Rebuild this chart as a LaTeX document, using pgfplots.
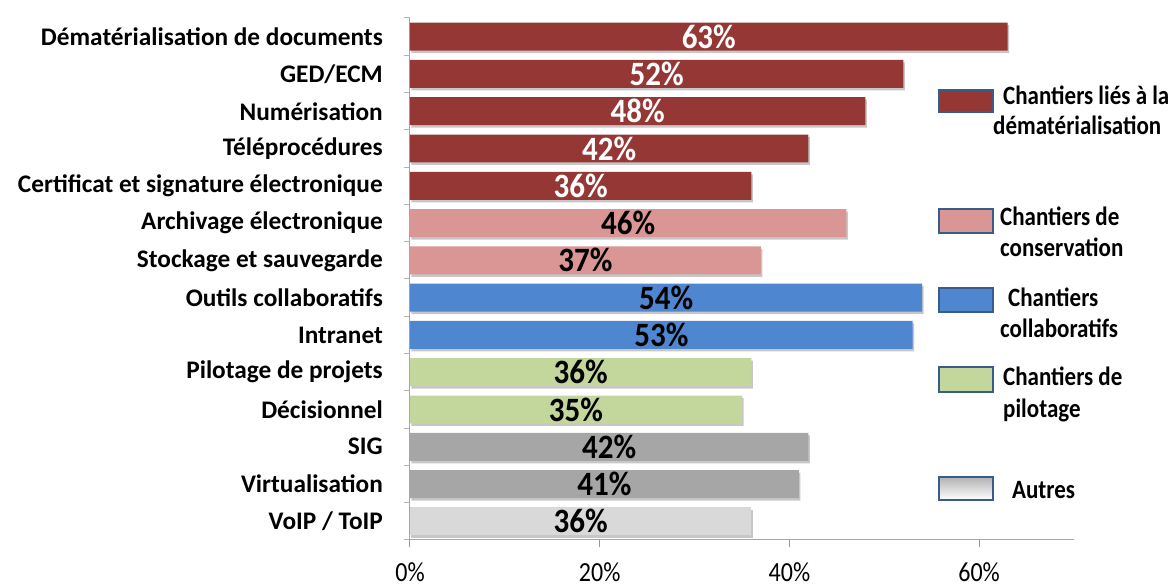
\documentclass[border=0pt]{standalone}
\usepackage{pgfplots}
\pgfplotsset{compat=1.18}
\usepackage{fontspec}
\setmainfont{Carlito}
\definecolor{cred}{HTML}{953735}
\definecolor{cpink}{HTML}{D99694}
\definecolor{cblue}{HTML}{4F86D0}
\definecolor{cgreen}{HTML}{C3D69B}
\definecolor{cdgray}{HTML}{A6A6A6}
\definecolor{clgray}{HTML}{D9D9D9}
\definecolor{legborder}{HTML}{385D8A}
\begin{document}
\begin{tikzpicture}[x=1pt,y=1pt]
\useasboundingbox (0,0) rectangle (1173,588);
\begin{axis}[
  at={(410pt,48pt)}, anchor=south west,
  scale only axis, width=664pt, height=522pt,
  xmin=0, xmax=70, ymin=-0.5, ymax=13.5,
  xbar, bar width=0.75, bar shift=0pt,
  axis lines*=left,
  axis line style={black!35, line width=1pt},
  /pgf/number format/assume math mode=true,
  xtick={0,20,40,60},
  xticklabels={\scalebox{1}[1.15]{0\%},\scalebox{1}[1.15]{20\%},\scalebox{1}[1.15]{40\%},\scalebox{1}[1.15]{60\%}},
  ytick={0,...,13},
  yticklabels={VoIP / ToIP, Virtualisation, SIG, Décisionnel\hspace{12pt}, Pilotage de projets, Intranet, Outils collaboratifs, Stockage et sauvegarde, Archivage électronique, Certificat et signature électronique\hspace{3pt}, Téléprocédures, Numérisation\hspace{3pt}, GED/ECM, Dématérialisation de documents},
  minor ytick={-0.5,0.5,...,13.5},
  tick align=outside,
  major tick length=7pt, minor tick length=6pt,
  major y tick style={draw=none},
  minor y tick style={black!30, line width=1pt},
  major x tick style={black!40, line width=1pt},
  yticklabel style={font=\fontsize{25.3}{25}\bfseries, anchor=east, inner sep=0pt, xshift=-20pt},
  xticklabel style={font=\fontsize{24}{24}\selectfont, anchor=north, inner sep=0pt, yshift=-15pt},
  point meta=x,
  visualization depends on={x \as \myx},
  nodes near coords={\scalebox{1}[1.1]{\pgfmathprintnumber{\pgfplotspointmeta}\%}},
  every node near coord/.append style={anchor=center, font=\fontsize{31}{31}\bfseries, inner sep=0pt, xshift={-4.743pt*\myx}},
  clip=false,
  shadowbar/.style={preaction={fill=black!22, transform canvas={xshift=1.5pt, yshift=-2.5pt}}},
]
\addplot[draw=none, fill=cred, shadowbar, every node near coord/.append style={text=white}] coordinates {(63,13) (52,12) (48,11) (42,10) (36,9)};
\addplot[draw=none, fill=cpink, shadowbar, every node near coord/.append style={text=black}] coordinates {(46,8) (37,7)};
\addplot[draw=none, fill=cblue, shadowbar, every node near coord/.append style={text=black}] coordinates {(54,6) (53,5)};
\addplot[draw=none, fill=cgreen, shadowbar, every node near coord/.append style={text=black}] coordinates {(36,4) (35,3)};
\addplot[draw=none, fill=cdgray, shadowbar, every node near coord/.append style={text=black}] coordinates {(42,2) (41,1)};
\addplot[draw=none, fill=clgray, shadowbar, every node near coord/.append style={text=black}] coordinates {(36,0)};
\end{axis}
% legend
\begin{scope}[line width=2pt]
\draw[legborder, fill=cred] (939,476) rectangle (993,498);
\draw[legborder, fill=cpink] (939,355) rectangle (993,379);
\draw[legborder, fill=cblue] (939,276) rectangle (993,300);
\draw[legborder, fill=cgreen] (939,196) rectangle (993,221);
\draw[legborder, top color=black!30, bottom color=white] (939,88) rectangle (993,111);
\end{scope}
\begin{scope}[every node/.style={font=\fontsize{23}{23}\bfseries, inner sep=0pt, anchor=base west}]
\node at (1003,483) {\scalebox{1}[1.15]{Chantiers liés à la}};
\node at (993,453) {\scalebox{1}[1.15]{dématérialisation}};
\node at (1000,362) {\scalebox{1}[1.15]{Chantiers de}};
\node at (1000,331) {\scalebox{1}[1.15]{conservation}};
\node at (1008,281) {\scalebox{1}[1.15]{Chantiers}};
\node at (1000,250) {\scalebox{1}[1.15]{collaboratifs}};
\node at (1003,202) {\scalebox{1}[1.15]{Chantiers de}};
\node at (1003,170) {\scalebox{1}[1.15]{pilotage}};
\node at (1012,89) {\scalebox{1}[1.15]{Autres}};
\end{scope}
\end{tikzpicture}
\end{document}
